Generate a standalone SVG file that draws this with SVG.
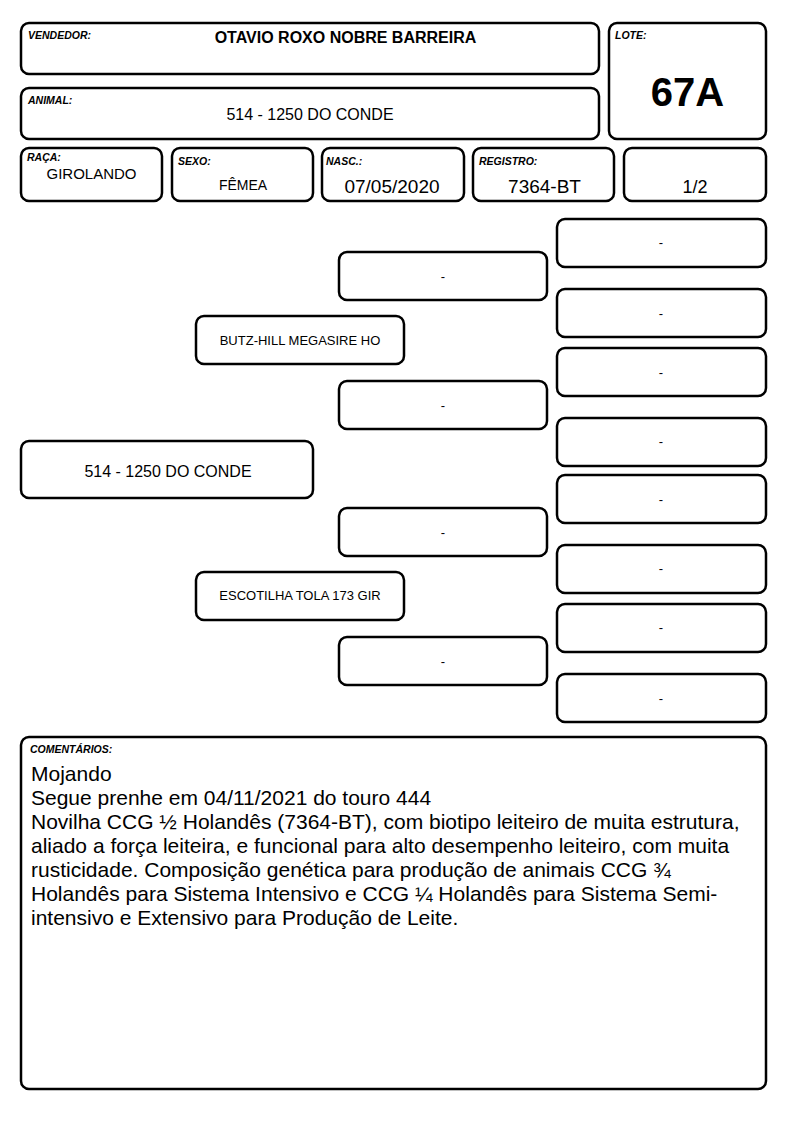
<svg xmlns="http://www.w3.org/2000/svg" width="794" height="1123" viewBox="0 0 794 1123">
<style>
.b{fill:#fff;stroke:#000;stroke-width:2.5}
.l{font-family:"Liberation Sans",Arial,sans-serif;font-weight:bold;font-style:italic;font-size:10.5px;fill:#000}
.v{font-family:"Liberation Sans",Arial,sans-serif;fill:#000;text-anchor:middle}
.p{font-family:"Liberation Sans",Arial,sans-serif;fill:#000;text-anchor:middle;font-size:13px}
.c{font-family:"Liberation Sans",Arial,sans-serif;fill:#000;font-size:21px}
</style>
<rect width="794" height="1123" fill="#fff"/>
<g id="vendedor"><rect class="b" x="21" y="23" width="578" height="51" rx="8"/><text class="l" x="28" y="39">VENDEDOR:</text><text class="v" x="345.5" y="43" font-size="16" font-weight="bold">OTAVIO ROXO NOBRE BARREIRA</text></g>
<g id="lote"><rect class="b" x="609" y="23" width="157" height="116" rx="8"/><text class="l" x="615" y="39">LOTE:</text><text class="v" x="687.5" y="106" font-size="40" font-weight="bold">67A</text></g>
<g id="animal"><rect class="b" x="21" y="88" width="578" height="51" rx="8"/><text class="l" x="28" y="104">ANIMAL:</text><text class="v" x="310" y="119.5" font-size="16">514 - 1250 DO CONDE</text></g>
<g id="raca"><rect class="b" x="21" y="148" width="141" height="53" rx="8"/><text class="l" x="27" y="161">RAÇA:</text><text class="v" x="91.5" y="178.5" font-size="15">GIROLANDO</text></g>
<g id="sexo"><rect class="b" x="172" y="148" width="141" height="53" rx="8"/><text class="l" x="178" y="165">SEXO:</text><text class="v" x="243" y="189.5" font-size="14">FÊMEA</text></g>
<g id="nasc"><rect class="b" x="322" y="148" width="142" height="53" rx="8"/><text class="l" x="326" y="165">NASC.:</text><text class="v" x="392" y="193" font-size="19">07/05/2020</text></g>
<g id="registro"><rect class="b" x="473" y="148" width="141" height="53" rx="8"/><text class="l" x="479" y="165">REGISTRO:</text><text class="v" x="544.5" y="193" font-size="19">7364-BT</text></g>
<g id="parte"><rect class="b" x="624" y="148" width="142" height="53" rx="8"/><text class="v" x="695" y="193" font-size="18">1/2</text></g>
<g id="connectors"></g>
<g id="p-animal"><rect class="b" x="21" y="441" width="292" height="57" rx="8"/><text class="v" x="168" y="476.5" font-size="16">514 - 1250 DO CONDE</text></g>
<g id="p-pai"><rect class="b" x="196" y="316" width="208" height="48" rx="8"/><text class="p" x="300" y="345">BUTZ-HILL MEGASIRE HO</text></g>
<g id="p-mae"><rect class="b" x="196" y="572" width="208" height="48" rx="8"/><text class="p" x="300" y="600">ESCOTILHA TOLA 173 GIR</text></g>
<g id="p-m1"><rect class="b" x="339" y="252" width="208" height="48" rx="8"/><text class="p" x="443" y="281">-</text></g>
<g id="p-m2"><rect class="b" x="339" y="381" width="208" height="48" rx="8"/><text class="p" x="443" y="410">-</text></g>
<g id="p-m3"><rect class="b" x="339" y="508" width="208" height="48" rx="8"/><text class="p" x="443" y="537">-</text></g>
<g id="p-m4"><rect class="b" x="339" y="637" width="208" height="48" rx="8"/><text class="p" x="443" y="666">-</text></g>
<g id="p-r1"><rect class="b" x="557" y="219" width="209" height="48" rx="8"/><text class="p" x="661" y="247">-</text></g>
<g id="p-r2"><rect class="b" x="557" y="289" width="209" height="48" rx="8"/><text class="p" x="661" y="318">-</text></g>
<g id="p-r3"><rect class="b" x="557" y="348" width="209" height="48" rx="8"/><text class="p" x="661" y="377">-</text></g>
<g id="p-r4"><rect class="b" x="557" y="418" width="209" height="48" rx="8"/><text class="p" x="661" y="446">-</text></g>
<g id="p-r5"><rect class="b" x="557" y="475" width="209" height="48" rx="8"/><text class="p" x="661" y="504">-</text></g>
<g id="p-r6"><rect class="b" x="557" y="545" width="209" height="48" rx="8"/><text class="p" x="661" y="573">-</text></g>
<g id="p-r7"><rect class="b" x="557" y="604" width="209" height="48" rx="8"/><text class="p" x="661" y="632">-</text></g>
<g id="p-r8"><rect class="b" x="557" y="674" width="209" height="48" rx="8"/><text class="p" x="661" y="703">-</text></g>
<g id="comentarios"><rect class="b" x="21" y="737" width="745" height="352" rx="8"/><text class="l" x="30" y="753">COMENTÁRIOS:</text>
<text class="c" x="31" y="781">Mojando</text>
<text class="c" x="31" y="805">Segue prenhe em 04/11/2021 do touro 444</text>
<text class="c" x="31" y="829">Novilha CCG ½ Holandês (7364-BT), com biotipo leiteiro de muita estrutura,</text>
<text class="c" x="31" y="853">aliado a força leiteira, e funcional para alto desempenho leiteiro, com muita</text>
<text class="c" x="31" y="877">rusticidade. Composição genética para produção de animais CCG ¾</text>
<text class="c" x="31" y="901">Holandês para Sistema Intensivo e CCG ¼ Holandês para Sistema Semi-</text>
<text class="c" x="31" y="925">intensivo e Extensivo para Produção de Leite.</text>
</g>
</svg>
